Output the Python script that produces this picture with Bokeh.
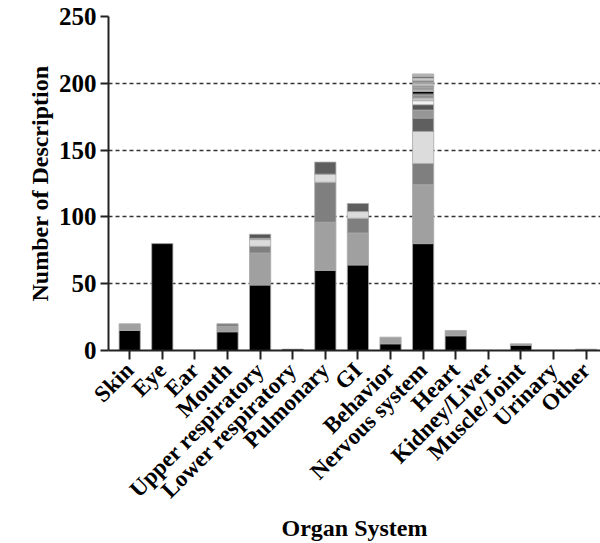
import math
from bokeh.plotting import figure
from bokeh.models import ColumnDataSource, FixedTicker, Range1d
from bokeh.embed import file_html
from bokeh.resources import INLINE

categories = ["Skin", "Eye", "Ear", "Mouth", "Upper respiratory", "Lower respiratory",
              "Pulmonary", "GI", "Behavior", "Nervous system", "Heart", "Kidney/Liver",
              "Muscle/Joint", "Urinary", "Other"]

# stacked segment values (bottom to top) per organ system
skin = [15, 5]
eye = [80]
ear = []
mouth = [14, 4, 2]
upper_resp = [49, 24, 5, 5, 0, 1, 3]
lower_resp = [1]
pulmonary = [60, 36, 30, 6, 9]
gi = [64, 24, 11, 5, 6]
behavior = [5, 5]
nervous = [80, 44, 16, 24, 10, 6, 4, 3, 2, 2, 1, 2, 1, 2, 1, 2, 1, 1, 2, 1, 2]
heart = [11, 4]
kidney_liver = []
muscle_joint = [4, 1]
urinary = []
other = [0, 1]

stacks = [skin, eye, ear, mouth, upper_resp, lower_resp, pulmonary, gi, behavior,
          nervous, heart, kidney_liver, muscle_joint, urinary, other]

layer_colors = ["#000000", "#a0a0a0", "#7f7f7f", "#dcdcdc", "#5f5f5f", "#969696",
                "#555555", "#f2f2f2", "#c8c8c8", "#8c8c8c", "#404040", "#000000",
                "#d0d0d0", "#9a9a9a", "#7a7a7a", "#bebebe", "#8a8a8a", "#707070",
                "#c8c8c8", "#3a3a3a", "#b4b4b4"]

y_ticks = [0, 50, 100, 150, 200, 250]
grid_ticks = [50, 100, 150, 200]

xs, bottoms, tops, colors = [], [], [], []
for i, segs in enumerate(stacks):
    base = 0
    for k, v in enumerate(segs):
        if v > 0:
            xs.append(i)
            bottoms.append(base)
            tops.append(base + v)
            colors.append(layer_colors[k])
        base += v

src = ColumnDataSource(dict(x=xs, bottom=bottoms, top=tops, color=colors))

p = figure(width=600, height=543, output_backend="svg", toolbar_location=None,
           x_range=Range1d(-0.65, 14.44), y_range=Range1d(0, 250),
           min_border_left=108, min_border_right=0, min_border_top=16, min_border_bottom=193)

p.vbar(x="x", bottom="bottom", top="top", width=0.65, fill_color="color",
       line_color="#a8a8a8", line_width=0.8, source=src)

FONT = "Liberation Serif"
p.outline_line_color = None
p.xgrid.visible = False
p.ygrid.ticker = FixedTicker(ticks=grid_ticks)
p.ygrid.grid_line_color = "#333333"
p.ygrid.grid_line_width = 1.5
p.ygrid.grid_line_dash = "4 3"

p.xaxis.ticker = FixedTicker(ticks=list(range(len(categories))))
p.xaxis.major_label_overrides = {i: c for i, c in enumerate(categories)}
p.xaxis.major_label_orientation = math.pi / 4
p.yaxis.ticker = FixedTicker(ticks=y_ticks)

for ax in (p.xaxis[0], p.yaxis[0]):
    ax.axis_line_color = "#222222"
    ax.axis_line_width = 2
    ax.major_tick_line_color = "#222222"
    ax.major_tick_line_width = 2
    ax.major_tick_in = 0
    ax.minor_tick_line_color = None
    ax.major_label_text_font = FONT
    ax.major_label_text_font_style = "bold"
    ax.major_label_text_color = "black"
    ax.axis_label_text_font = FONT
    ax.axis_label_text_font_style = "bold"
    ax.axis_label_text_color = "black"

p.xaxis.major_tick_out = 9
p.yaxis.major_tick_out = 8
p.xaxis.major_label_text_font_size = "23px"
p.yaxis.major_label_text_font_size = "25px"
p.xaxis.axis_label = "Organ System"
p.yaxis.axis_label = "Number of Description"
p.xaxis.axis_label_text_font_size = "24px"
p.yaxis.axis_label_text_font_size = "24px"
p.yaxis.major_label_standoff = 4
p.xaxis.major_label_standoff = 7
p.yaxis.axis_label_standoff = 3
p.xaxis.axis_label_standoff = 0

open("out.html", "w").write(file_html(p, INLINE))
